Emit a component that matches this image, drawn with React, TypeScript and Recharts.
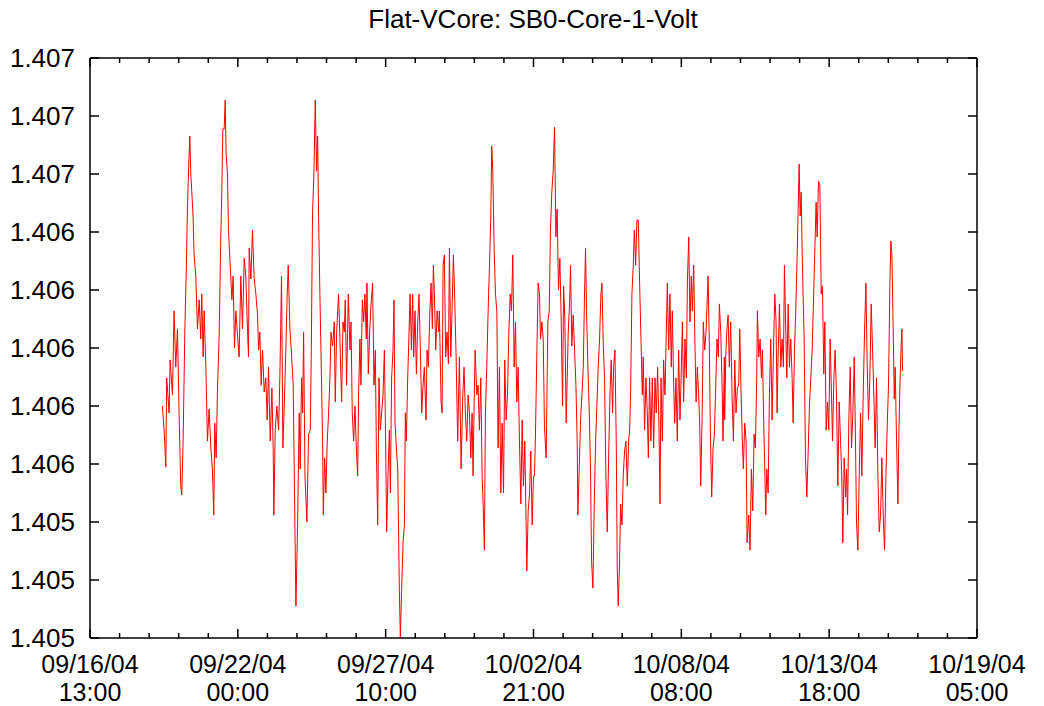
import React from 'react';
import { LineChart, Line, XAxis, YAxis } from 'recharts';

const chartTitle = 'Flat-VCore: SB0-Core-1-Volt';

// x axis: hours since 09/16/04 13:00
const xMajorHours = [0, 130.667, 261.333, 392, 522.667, 653.333, 784];
const xTickDates = ['09/16/04', '09/22/04', '09/27/04', '10/02/04', '10/08/04', '10/13/04', '10/19/04'];
const xTickTimes = ['13:00', '00:00', '10:00', '21:00', '08:00', '18:00', '05:00'];

const yTicks = [1.405, 1.4052, 1.4054, 1.4056, 1.4058, 1.406, 1.4062, 1.4064, 1.4066, 1.4068, 1.407];
const yTickLabels = ['1.405', '1.405', '1.405', '1.406', '1.406', '1.406', '1.406', '1.406', '1.407', '1.407', '1.407'];

// sample times (hours since 09/16/04 13:00)
const sampleHours = [
  64.0, 65.5, 67.0, 67.8, 69.9, 70.8, 72.9, 74.3, 75.8, 77.3, 78.8, 80.2, 81.1, 82.3, 83.8, 85.2, 86.1, 87.0, 88.2, 89.1,
  90.0, 91.1, 92.0, 93.5, 95.0, 96.5, 97.9, 98.8, 100.0, 100.9, 102.4, 103.8, 105.3, 106.8, 108.2, 109.4, 110.3, 111.5, 112.7, 114.1,
  115.6, 116.5, 117.4, 118.6, 119.5, 120.3, 121.5, 122.4, 123.9, 125.4, 126.5, 127.7, 128.9, 130.4, 131.8, 133.3, 134.8, 136.3, 137.7, 139.2, 140.1,
  140.7, 142.2, 143.6, 145.1, 146.6, 148.1, 149.0, 150.1, 151.3, 152.5, 154.0, 155.4, 156.6, 157.8, 159.3, 160.8, 161.9, 162.5, 163.7, 165.2,
  166.7, 167.8, 169.3, 170.5, 171.7, 173.1, 174.3, 175.2, 176.7, 177.9, 179.6, 181.1, 182.0, 183.5, 184.9, 185.8, 187.0, 187.9, 188.8, 190.0,
  191.7, 193.2, 194.7, 195.6, 196.7, 197.9, 199.1, 200.3, 201.2, 202.1, 203.2, 204.4, 205.6, 206.2, 207.4, 208.5, 209.7, 210.9, 212.1, 213.0,
  214.4, 215.9, 216.8, 218.0, 219.7, 220.9, 222.4, 223.6,
  224.8, 225.6, 226.8, 228.3, 229.8, 230.7, 231.8, 233.0, 234.2, 235.4, 236.6, 237.4, 238.6, 239.5, 240.7, 241.9, 243.0, 244.2, 244.8, 246.0,
  247.2, 248.4, 249.8, 251.0, 252.2, 253.1, 254.3, 255.4, 256.6, 257.8, 259.0, 260.2, 261.3, 262.2, 263.4, 264.6, 265.5, 266.6, 267.8, 268.7,
  269.6, 270.8, 272.0, 273.4, 274.3, 275.5, 276.7, 277.9, 278.7, 279.6, 280.8, 282.0, 282.9, 284.1, 285.2, 286.1, 287.3, 288.5, 289.7, 290.8,
  292.0, 293.2, 294.4, 295.5, 297.0, 297.9, 299.1, 300.3, 301.5, 302.6, 303.5, 304.4, 305.6, 306.8, 308.2,
  308.8, 310.3, 311.2, 312.1, 313.2, 314.4, 315.6, 316.8, 317.7, 318.9, 320.0, 321.2, 322.4, 323.6, 325.0, 326.5, 328.0, 329.5, 330.6, 331.8,
  333.0, 334.2, 335.4, 336.6, 337.7, 338.6, 339.5, 340.4, 341.9, 343.0, 344.2, 345.4, 346.6, 347.5, 348.6, 349.5, 350.7, 351.9, 353.1, 354.2,
  355.1, 356.0, 357.2, 358.4, 359.6, 360.7, 361.9, 363.1, 364.3, 365.5, 366.6, 367.8, 369.0, 370.2, 371.4, 372.5, 373.7, 374.9, 376.1, 377.2,
  378.4, 379.6, 380.8, 382.0, 383.1, 384.3, 385.2, 386.1, 387.3, 388.5, 389.6, 390.8, 392.0,
  392.9, 393.8, 395.0, 396.1, 397.3, 398.2, 399.4, 400.6, 401.7, 403.2, 404.7, 405.9, 407.0, 408.2, 409.4, 410.6, 411.8, 412.9, 414.1, 415.3,
  416.5, 417.7, 418.6, 419.7, 420.9, 421.8, 422.7, 423.9, 424.7, 425.9, 427.1, 428.3, 429.5, 430.6, 431.2, 432.4, 433.6, 434.8, 436.0, 437.1,
  438.0, 438.9, 440.1, 441.3, 442.4, 443.3, 444.5, 445.7, 446.9, 448.0, 449.2, 450.4, 451.6, 452.5, 453.7, 454.8, 456.0, 457.2, 458.4, 459.6,
  460.7, 461.9, 462.8, 464.0, 465.2, 466.0, 466.9, 468.1, 469.0, 470.2, 471.3, 472.5, 473.7, 474.9, 476.1,
  477.0, 477.8, 479.0, 480.2, 481.1, 482.3, 483.4, 484.6, 485.8, 487.0, 488.2, 489.0, 490.2, 491.4, 492.6, 493.5, 494.6, 495.8, 497.0, 498.2,
  499.4, 500.5, 501.7, 502.9, 503.8, 504.7, 505.9, 507.0, 508.2, 509.4, 510.3, 511.5, 512.6, 513.8, 514.7, 515.9, 516.8, 517.9, 519.1, 520.3,
  521.5, 522.7, 523.6, 524.7, 525.9, 527.1, 528.0, 529.2, 530.3, 531.5, 532.4, 533.6, 534.5, 535.7, 536.8, 538.0, 538.9, 539.8, 541.0, 542.1,
  543.3, 544.5, 545.4, 546.3, 547.4, 548.3, 549.5, 550.7, 551.9, 553.1, 554.2, 555.4, 556.3, 557.5, 558.7, 559.5, 560.7,
  561.0, 561.9, 562.8, 564.0, 565.1, 566.3, 567.5, 568.7, 569.9, 571.0, 572.2, 573.4, 574.3, 575.5, 576.6, 577.5, 578.7, 579.9, 580.8, 582.2,
  583.4, 584.6, 585.8, 587.0, 588.1, 589.3, 589.9, 591.1, 592.3, 593.5, 594.3, 595.5, 596.4, 597.3, 598.2, 599.4, 600.5, 601.7, 602.9, 604.1,
  605.3, 606.4, 607.3, 608.2, 609.4, 610.6, 611.7, 612.9, 613.8, 614.7, 615.9, 617.1, 618.2, 619.4, 620.6, 621.5, 622.7, 623.8, 625.0, 625.9,
  626.8, 627.7, 628.6, 629.4, 630.3, 631.2, 632.4, 633.6, 634.8, 635.9, 637.1, 638.3, 639.5, 640.7, 641.8, 642.7, 643.9,
  645.1, 646.3, 647.4, 648.6, 649.5, 650.7, 651.9, 653.0, 654.2, 655.4, 656.3, 657.5, 658.6, 659.8, 661.0, 662.2, 663.4, 664.5, 665.4, 666.6,
  667.8, 668.7, 669.6, 670.7, 671.9, 673.1, 674.3, 675.5, 676.6, 677.5, 678.7, 679.9, 681.1, 682.2, 683.4, 684.6, 685.8, 687.0, 688.1, 689.3,
  690.5, 691.7, 692.9, 694.0, 695.2, 696.4, 697.6, 698.8, 699.9, 701.1, 702.3, 703.5, 704.7, 705.8, 707.0, 707.9, 708.8, 710.0, 710.9, 711.7,
  712.9, 714.1, 715.0, 715.9, 716.8, 717.6, 718.2,
];

// SB0-Core-1-Volt readings (V)
const coreVolts = [
  1.405800, 1.405717, 1.405590, 1.405897, 1.405776, 1.405959, 1.405838, 1.406128, 1.405934, 1.406066,
  1.405766, 1.405524, 1.405493, 1.405679, 1.406055, 1.406286, 1.406479, 1.406600, 1.406731, 1.406600,
  1.406538, 1.406455, 1.406321, 1.406248, 1.406066, 1.406166, 1.406031, 1.406186, 1.405969, 1.406128,
  1.405934, 1.405679, 1.405790, 1.405655, 1.405583, 1.405424, 1.405741, 1.405621, 1.405862, 1.406031,
  1.406383, 1.406538, 1.406755, 1.406755, 1.406855, 1.406672, 1.406600, 1.406407, 1.406286, 1.406166,
  1.406248, 1.406000, 1.406128, 1.406041, 1.405969, 1.406248, 1.406066, 1.406310, 1.406248, 1.406066, 1.405969,
  1.406345, 1.406238, 1.406407, 1.406238, 1.406186, 1.406114, 1.405993, 1.406055, 1.405872, 1.405993,
  1.405848, 1.405897, 1.405752, 1.405934, 1.405679, 1.405862, 1.405655, 1.405424, 1.405717, 1.405800,
  1.405717, 1.405897, 1.406248, 1.405655, 1.405800, 1.405993, 1.406186, 1.406286, 1.406066, 1.405993,
  1.405872, 1.405390, 1.405110, 1.405390, 1.405776, 1.405583, 1.405897, 1.405776, 1.406055, 1.405559,
  1.405400, 1.405703, 1.405717, 1.405993, 1.406466, 1.406600, 1.406855, 1.406610, 1.406731, 1.406441,
  1.406186, 1.405934, 1.405679, 1.405424, 1.405621, 1.405500, 1.405679, 1.405776, 1.405897, 1.406055,
  1.406007, 1.406090, 1.405814, 1.406055, 1.406186, 1.406031, 1.405814, 1.406090,
  1.406055, 1.406166, 1.405872, 1.406186, 1.405993, 1.406090, 1.405776, 1.405679, 1.405800, 1.405655,
  1.405559, 1.405838, 1.406031, 1.405872, 1.406166, 1.406090, 1.406186, 1.406031, 1.406224, 1.405910,
  1.406055, 1.406152, 1.406224, 1.405872, 1.405993, 1.405655, 1.405390, 1.405897, 1.405717, 1.405776,
  1.405838, 1.405993, 1.405679, 1.405366, 1.405559, 1.405717, 1.405500, 1.405897, 1.405993, 1.406166,
  1.405741, 1.405655, 1.405583, 1.405172, 1.405003, 1.405172, 1.405328, 1.405390, 1.405776, 1.405679,
  1.405897, 1.406055, 1.406186, 1.405993, 1.406186, 1.405969, 1.406128, 1.405910, 1.406090, 1.406186,
  1.405993, 1.405776, 1.405872, 1.405934, 1.405752, 1.405993, 1.405934, 1.406114, 1.406224, 1.406066,
  1.406286, 1.406186, 1.405993, 1.406128, 1.406055,
  1.406128, 1.405814, 1.405776, 1.406286, 1.406321, 1.405969, 1.406055, 1.405945, 1.406345, 1.405969,
  1.406128, 1.406321, 1.406166, 1.405969, 1.405679, 1.405969, 1.405583, 1.405838, 1.405934, 1.405776,
  1.405679, 1.405838, 1.405776, 1.405621, 1.405776, 1.405559, 1.405800, 1.405993, 1.405838, 1.405872,
  1.405717, 1.405897, 1.405559, 1.405462, 1.405303, 1.405776, 1.405934, 1.406128, 1.406286, 1.406441,
  1.406697, 1.406610, 1.406345, 1.406186, 1.406128, 1.405655, 1.405934, 1.405500, 1.405741, 1.405500,
  1.405959, 1.405752, 1.405838, 1.406055, 1.406186, 1.406128, 1.406321, 1.405934, 1.406090, 1.405814,
  1.405934, 1.405679, 1.405462, 1.405752, 1.405524, 1.405679, 1.405462, 1.405231, 1.405438, 1.405500,
  1.405645, 1.405390, 1.405559,
  1.405559, 1.405717, 1.405993, 1.406224, 1.406186, 1.406031, 1.406090, 1.406031, 1.405728, 1.405621,
  1.406090, 1.406128, 1.406407, 1.406538, 1.406610, 1.406762, 1.406383, 1.406479, 1.406200, 1.406310,
  1.406090, 1.405800, 1.406214, 1.406103, 1.405741, 1.405897, 1.406055, 1.406152, 1.406286, 1.406007,
  1.406114, 1.405993, 1.405872, 1.405679, 1.405424, 1.405583, 1.405752, 1.405838, 1.405934, 1.406186,
  1.406345, 1.406128, 1.405934, 1.405776, 1.405583, 1.405269, 1.405172, 1.405462, 1.405679, 1.405800,
  1.405934, 1.406031, 1.406186, 1.406224, 1.406007, 1.405897, 1.405559, 1.405366, 1.405621, 1.405838,
  1.405959, 1.405776, 1.405934, 1.405993, 1.405655, 1.405245, 1.405110, 1.405269, 1.405462, 1.405390,
  1.405559, 1.405645, 1.405679, 1.405524, 1.405679,
  1.405717, 1.405838, 1.406186, 1.406286, 1.406407, 1.406286, 1.406441, 1.406441, 1.406224, 1.406031,
  1.405838, 1.405969, 1.405717, 1.405897, 1.405776, 1.405621, 1.405897, 1.405679, 1.405897, 1.405655,
  1.405897, 1.405776, 1.405934, 1.405728, 1.405462, 1.405897, 1.405679, 1.405959, 1.405838, 1.406055,
  1.406224, 1.405993, 1.406186, 1.405934, 1.406128, 1.405872, 1.405741, 1.405897, 1.405679, 1.405993,
  1.405752, 1.405934, 1.406090, 1.405814, 1.406031, 1.405897, 1.406224, 1.406383, 1.406090, 1.406248,
  1.406128, 1.406286, 1.406055, 1.405814, 1.405934, 1.405838, 1.405741, 1.405524, 1.405752, 1.406090,
  1.405993, 1.406055, 1.406152, 1.406248, 1.406007, 1.405717, 1.405486, 1.405655, 1.405703, 1.405872,
  1.406031, 1.405969, 1.406152, 1.406055, 1.405872, 1.405679, 1.405969,
  1.405752, 1.405969, 1.406055, 1.406114, 1.405934, 1.406090, 1.405838, 1.405679, 1.405959, 1.405776,
  1.405862, 1.405872, 1.406066, 1.405838, 1.405679, 1.405583, 1.405741, 1.405679, 1.405328, 1.405424,
  1.405303, 1.405583, 1.405438, 1.405703, 1.405655, 1.405897, 1.406128, 1.405969, 1.406031, 1.405897,
  1.405993, 1.405741, 1.405583, 1.405424, 1.405583, 1.405500, 1.405838, 1.406031, 1.405752, 1.405993,
  1.406186, 1.406090, 1.405776, 1.405969, 1.406152, 1.405934, 1.406031, 1.405934, 1.406286, 1.406114,
  1.405897, 1.406152, 1.405934, 1.406031, 1.405897, 1.405741, 1.405993, 1.406128, 1.406310, 1.406479,
  1.406634, 1.406455, 1.406538, 1.406345, 1.406186, 1.406031, 1.405621, 1.405486, 1.405645, 1.405800,
  1.405897, 1.405993, 1.406166, 1.406345, 1.406503, 1.406383, 1.406576,
  1.406562, 1.406186, 1.406214, 1.405910, 1.406090, 1.405717, 1.405814, 1.405717, 1.406031, 1.405838,
  1.405679, 1.405897, 1.405993, 1.405838, 1.405524, 1.405814, 1.405679, 1.405559, 1.405328, 1.405621,
  1.405486, 1.405583, 1.405424, 1.405752, 1.405934, 1.405655, 1.405776, 1.405969, 1.405679, 1.405400,
  1.405303, 1.405559, 1.405776, 1.405559, 1.405838, 1.406055, 1.406224, 1.405934, 1.405752, 1.405897,
  1.406152, 1.405993, 1.405824, 1.405655, 1.405897, 1.405559, 1.405366, 1.405424, 1.405621, 1.405424,
  1.405303, 1.405559, 1.405741, 1.405872, 1.406224, 1.406369, 1.406321, 1.406041, 1.405824, 1.405934,
  1.405679, 1.405462, 1.405717, 1.405872, 1.405993, 1.406066, 1.405921,
];

const FONT = '"Liberation Sans", Arial, Helvetica, sans-serif';

const n = Math.min(sampleHours.length, coreVolts.length);
const data = sampleHours.slice(0, n).map((t, i) => ({ t, v: coreVolts[i] }));

// minor ticks: 4 between each major
const xAllTicks: number[] = [];
for (let i = 0; i < xMajorHours.length; i++) {
  xAllTicks.push(xMajorHours[i]);
  if (i < xMajorHours.length - 1) {
    const a = xMajorHours[i];
    const b = xMajorHours[i + 1];
    for (let k = 1; k < 5; k++) xAllTicks.push(a + ((b - a) * k) / 5);
  }
}

const majorIndex = (v: number) => xMajorHours.findIndex((m) => Math.abs(m - v) < 1e-6);
const yIndex = (v: number) => yTicks.findIndex((m) => Math.abs(m - v) < 1e-9);

const BottomTick = (props: any) => {
  const { x, y, payload } = props;
  const mi = majorIndex(payload.value);
  const major = mi >= 0;
  return (
    <g>
      <line x1={x} x2={x} y1={y} y2={y - (major ? 9 : 5)} stroke="#000" strokeWidth={1.5} />
      {major && (
        <text textAnchor="middle" fontFamily={FONT} fontSize={25} fill="#000">
          <tspan x={x} y={y + 35}>{xTickDates[mi]}</tspan>
          <tspan x={x} y={y + 63}>{xTickTimes[mi]}</tspan>
        </text>
      )}
    </g>
  );
};

const TopTick = (props: any) => {
  const { x, y, payload } = props;
  const major = majorIndex(payload.value) >= 0;
  return <line x1={x} x2={x} y1={y} y2={y + (major ? 9 : 5)} stroke="#000" strokeWidth={1.5} />;
};

const LeftTick = (props: any) => {
  const { x, y, payload } = props;
  const i = yIndex(payload.value);
  return (
    <g>
      <line x1={x} x2={x + 9} y1={y} y2={y} stroke="#000" strokeWidth={1.5} />
      <text x={x - 15} y={y + 9} textAnchor="end" fontFamily={FONT} fontSize={26} fill="#000">
        {i >= 0 ? yTickLabels[i] : ''}
      </text>
    </g>
  );
};

const RightTick = (props: any) => {
  const { x, y } = props;
  return <line x1={x} x2={x - 9} y1={y} y2={y} stroke="#000" strokeWidth={1.5} />;
};

const axisLine = { stroke: '#000', strokeWidth: 1.5 } as any;

export default function App() {
  return (
    <div style={{ position: 'absolute', left: 0, top: 0, width: 1044, height: 706, background: '#fff' }}>
      <div
        style={{
          position: 'absolute',
          left: 283,
          top: 6,
          width: 500,
          textAlign: 'center',
          fontFamily: FONT,
          fontSize: 26,
          lineHeight: '26px',
          color: '#000',
        }}
      >
        {chartTitle}
      </div>
      <LineChart width={1044} height={706} data={data} margin={{ top: 57, right: 66, bottom: 0, left: 0 }}>
        <XAxis
          xAxisId="b"
          dataKey="t"
          type="number"
          domain={[0, 784]}
          ticks={xAllTicks}
          interval={0}
          tick={<BottomTick />}
          tickLine={false}
          tickSize={0}
          tickMargin={0}
          axisLine={axisLine}
          height={68}
          allowDataOverflow
        />
        <XAxis
          xAxisId="t"
          orientation="top"
          dataKey="t"
          type="number"
          domain={[0, 784]}
          ticks={xAllTicks}
          interval={0}
          tick={<TopTick />}
          tickLine={false}
          tickSize={0}
          tickMargin={0}
          axisLine={axisLine}
          height={1}
          allowDataOverflow
        />
        <YAxis
          yAxisId="l"
          type="number"
          domain={[1.405, 1.407]}
          ticks={yTicks}
          interval={0}
          tick={<LeftTick />}
          tickLine={false}
          tickSize={0}
          tickMargin={0}
          axisLine={axisLine}
          width={90}
          allowDataOverflow
        />
        <YAxis
          yAxisId="r"
          orientation="right"
          type="number"
          domain={[1.405, 1.407]}
          ticks={yTicks}
          interval={0}
          tick={<RightTick />}
          tickLine={false}
          tickSize={0}
          tickMargin={0}
          axisLine={axisLine}
          width={1}
          allowDataOverflow
        />
        <Line
          xAxisId="b"
          yAxisId="l"
          dataKey="v"
          type="linear"
          stroke="#ff0000"
          strokeWidth={1}
          dot={false}
          activeDot={false}
          isAnimationActive={false}
        />
      </LineChart>
    </div>
  );
}
